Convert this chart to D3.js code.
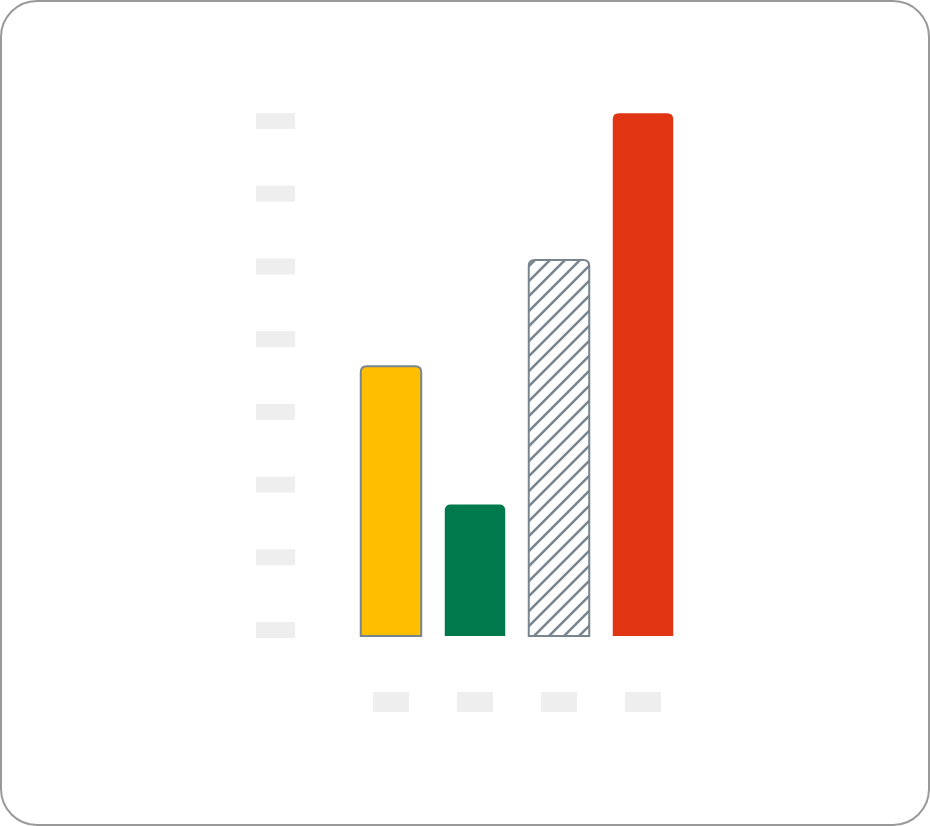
<!DOCTYPE html>
<html>
<head>
<meta charset="utf-8">
<script src="https://cdn.jsdelivr.net/npm/d3@7.9.0/dist/d3.min.js"></script>
<style>
  html, body { margin: 0; padding: 0; background: #fff; }
  svg { display: block; }
</style>
</head>
<body>
<svg id="chart" width="930" height="826"></svg>
<script>
// data
const categories = ['A', 'B', 'C', 'D'];
const values = [3.71, 1.81, 5.17, 7.19];
const yTicks = [0, 1, 2, 3, 4, 5, 6, 7];

// bar styles
const fills = ['#ffbf00', '#007a4d', 'url(#hatch)', '#e03412'];
const strokes = ['#78858f', 'none', '#78858f', 'none'];

const width = 930, height = 826;
const svg = d3.select('#chart');

// frame
svg.append('rect')
  .attr('x', 1).attr('y', 1)
  .attr('width', width - 2).attr('height', height - 2)
  .attr('rx', 36)
  .attr('fill', '#fff')
  .attr('stroke', '#999')
  .attr('stroke-width', 2);

// hatch pattern
const tile = 15;
const defs = svg.append('defs');
const pat = defs.append('pattern')
  .attr('id', 'hatch')
  .attr('patternUnits', 'userSpaceOnUse')
  .attr('width', tile).attr('height', tile);
pat.append('rect').attr('width', tile).attr('height', tile).attr('fill', '#fff');
pat.append('path')
  .attr('d', `M-4,4 L4,-4 M0,${tile} L${tile},0 M${tile - 4},${tile + 4} L${tile + 4},${tile - 4}`)
  .attr('stroke', '#78858f')
  .attr('stroke-width', 2.5);

// scales
const x = d3.scaleBand()
  .domain(categories)
  .range([349, 685])
  .paddingInner(0.28)
  .paddingOuter(0.14);

const y = d3.scaleLinear()
  .domain([0, 7])
  .range([636, 127]);

// y tick placeholders
svg.append('g')
  .selectAll('rect')
  .data(yTicks)
  .join('rect')
  .attr('x', 256)
  .attr('y', d => y(d) - 14)
  .attr('width', 39)
  .attr('height', 16)
  .attr('fill', '#eeeeee');

// x label placeholders
svg.append('g')
  .selectAll('rect')
  .data(categories)
  .join('rect')
  .attr('x', d => x(d) + x.bandwidth() / 2 - 18)
  .attr('y', 692)
  .attr('width', 36)
  .attr('height', 20)
  .attr('fill', '#eeeeee');

// rounded-top bar path
function barPath(x0, y0, w, h, r) {
  return `M${x0},${y0 + h} V${y0 + r} Q${x0},${y0} ${x0 + r},${y0}` +
    ` H${x0 + w - r} Q${x0 + w},${y0} ${x0 + w},${y0 + r} V${y0 + h} Z`;
}

svg.append('g')
  .selectAll('path')
  .data(values)
  .join('path')
  .attr('d', (d, i) => {
    const bx = x(categories[i]);
    const by = y(d);
    return barPath(bx, by, x.bandwidth(), y(0) - by, 6);
  })
  .attr('fill', (d, i) => fills[i])
  .attr('stroke', (d, i) => strokes[i])
  .attr('stroke-width', 2);
</script>
</body>
</html>
